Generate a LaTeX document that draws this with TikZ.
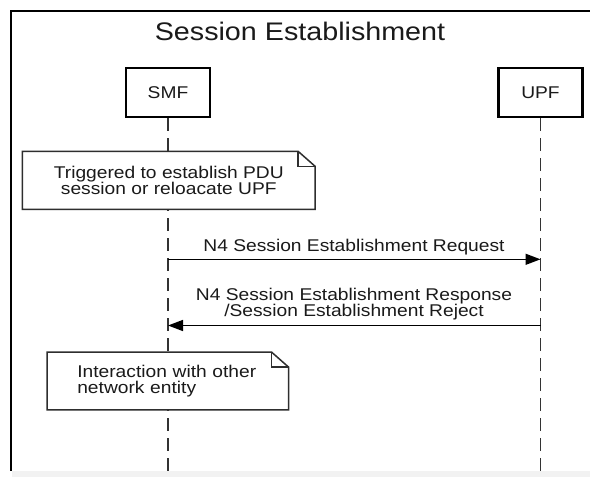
\documentclass[tikz,border=0pt]{standalone}
\usepackage{fontspec}
\setmainfont{Liberation Sans}[FakeStretch=1.13]
\usetikzlibrary{arrows.meta}
\definecolor{txt}{HTML}{1A1A1A}
\definecolor{lifegray}{HTML}{333333}
\definecolor{notegray}{HTML}{2E2E2E}
\definecolor{band}{HTML}{F2F2F2}
% folded-corner outline drawn around a note node
\newcommand\notebox[1]{%
  \draw[noteline] (#1.south west) -- (#1.north west) -- ([xshift=-17pt]#1.north east)
    -- ([yshift=-15pt]#1.north east) -- (#1.south east) -- cycle;
  \draw[noteline] ([xshift=-17pt]#1.north east) |- ([yshift=-15pt]#1.north east);}
\begin{document}
\begin{tikzpicture}[x=1pt,y=-1pt,
  basefont/.style={font=\fontsize{17}{16}\selectfont, text=txt},
  title/.style={font=\fontsize{25.4}{28}\selectfont, text=txt, inner sep=0pt, anchor=base},
  actor/.style={basefont, draw=black, line width=2.6pt, fill=white,
    minimum width=84pt, minimum height=49pt, inner sep=0pt},
  lifeline/.style={draw=lifegray, line width=1.6pt, dash pattern=on 13pt off 7pt},
  note/.style={basefont, fill=white, inner ysep=0pt, minimum height=57.5pt},
  noteline/.style={draw=notegray, line width=1.5pt, line join=miter},
  msg/.style={draw=black, line width=1.5pt, -{Triangle[length=15pt,width=11pt]}},
  msglabel/.style={basefont, inner sep=0pt, align=center},
  frame/.style={draw=black, line width=2.6pt, line join=miter}]
\useasboundingbox (0,0) rectangle (590,477);
\fill[white] (0,0) rectangle (590,477);

% outer frame
\draw[frame] (590,11) -- (11,11) -- (11,471);
\node[title] (title) at (300,40) {Session Establishment};

% participants and lifelines
\node[actor] (smf) at (168,92.5) {SMF};
\node[actor] (upf) at (540.5,92.5) {UPF};
\coordinate (smfend) at (168,471);
\coordinate (upfend) at (540.5,471);
\draw[lifeline] (smf.south) -- (smfend);
\draw[lifeline] (upf.south) -- (upfend);

% note: trigger
\node[note, minimum width=292.3pt, align=center] (trig) at (168.8,180.3)
  {Triggered to establish PDU\\session or reloacate UPF};
\notebox{trig}

% request
\coordinate (reqA) at (smf.south |- 0,259.3);
\coordinate (reqB) at (upf.south |- 0,259.3);
\draw[msg] (reqA) -- (reqB);
\node[msglabel, anchor=base] (reqlbl) at (354,251.7) {N4 Session Establishment Request};

% response
\coordinate (rspA) at (upf.south |- 0,325.5);
\coordinate (rspB) at (smf.south |- 0,325.5);
\draw[msg] (rspA) -- (rspB);
\node[msglabel, anchor=south] (rsplbl) at (354,320.6)
  {N4 Session Establishment Response\\/Session Establishment Reject};

% note: interaction
\node[note, inner xsep=30pt, text width=181pt, align=left] (inter) at (167.8,381)
  {Interaction with other\\network entity};
\notebox{inter}

% strip along the lower edge
\fill[band] (12.3,471) rectangle (590,477);
\end{tikzpicture}
\end{document}
